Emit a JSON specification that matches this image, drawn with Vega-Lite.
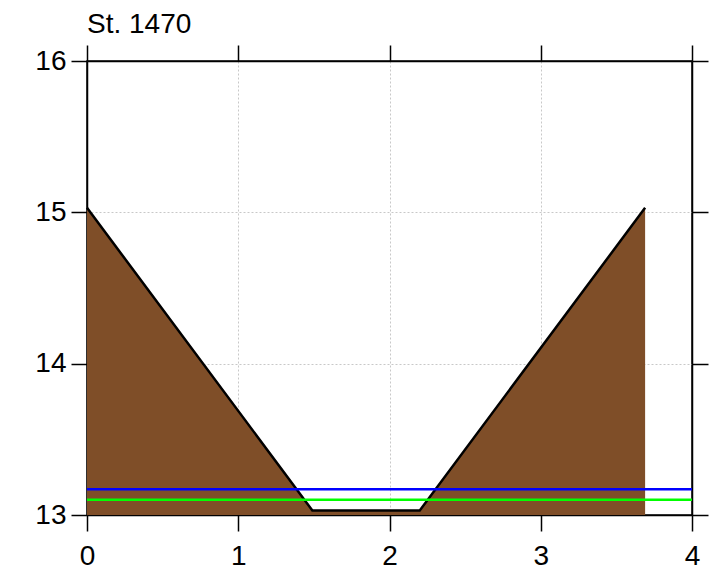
{
  "$schema": "https://vega.github.io/schema/vega-lite/v6.json",
  "width": 605,
  "height": 454,
  "autosize": "none",
  "padding": {"left": 87, "top": 61, "right": 17, "bottom": 59},
  "background": "white",
  "title": {"text": "St. 1470", "anchor": "start", "frame": "group", "font": "Liberation Sans", "fontSize": 28, "fontWeight": "normal", "color": "#000", "offset": 5},
  "config": {
    "view": {"stroke": "#000", "strokeWidth": 1.5},
    "axis": {"labelFont": "Liberation Sans", "labelFontSize": 28, "labelColor": "#000", "tickColor": "#000", "tickSize": 16, "tickWidth": 1.5, "domainColor": "#000", "domainWidth": 1.5, "labelPadding": 5, "title": null}
  },
  "datasets": {
    "bank": [
      {"x": 0, "z": 15.03},
      {"x": 1.49, "z": 13.03},
      {"x": 2.2, "z": 13.03},
      {"x": 3.69, "z": 15.03}
    ],
    "levels": [
      {"name": "blue", "x0": 0, "x1": 4, "z": 13.17},
      {"name": "green", "x0": 0, "x1": 4, "z": 13.1}
    ]
  },
  "resolve": {"axis": {"x": "independent", "y": "independent"}},
  "layer": [
    {
      "data": {"name": "bank"},
      "mark": {"type": "area", "color": "#7f4e28", "opacity": 1},
      "encoding": {
        "x": {"field": "x", "type": "quantitative", "scale": {"domain": [0, 4], "nice": false, "zero": false},
              "axis": {"orient": "bottom", "values": [0, 1, 2, 3, 4], "grid": true, "gridColor": "#c8c8c8", "gridDash": [2, 2], "gridWidth": 1, "labelFlush": false, "labelFontSize": 28, "labelPadding": 11}},
        "y": {"field": "z", "type": "quantitative", "scale": {"domain": [13, 16], "nice": false, "zero": false},
              "axis": {"orient": "left", "values": [13, 14, 15, 16], "grid": true, "gridColor": "#c8c8c8", "gridDash": [2, 2], "gridWidth": 1, "labelFlush": false, "labelFontSize": 28, "labelPadding": 5}},
        "y2": {"datum": 13}
      }
    },
    {
      "data": {"name": "bank"},
      "mark": {"type": "line", "color": "#000", "strokeWidth": 2.5},
      "encoding": {
        "x": {"field": "x", "type": "quantitative", "axis": null},
        "y": {"field": "z", "type": "quantitative", "axis": null}
      }
    },
    {
      "data": {"name": "levels"},
      "mark": {"type": "rule", "strokeWidth": 2.5},
      "encoding": {
        "x": {"field": "x0", "type": "quantitative",
              "axis": {"orient": "top", "values": [0, 1, 2, 3, 4], "labels": false, "grid": false}},
        "x2": {"field": "x1"},
        "y": {"field": "z", "type": "quantitative",
              "axis": {"orient": "right", "values": [13, 14, 15, 16], "labels": false, "grid": false}},
        "color": {"field": "name", "type": "nominal", "scale": {"domain": ["blue", "green"], "range": ["#0000ff", "#00ff00"]}, "legend": null}
      }
    }
  ]
}
